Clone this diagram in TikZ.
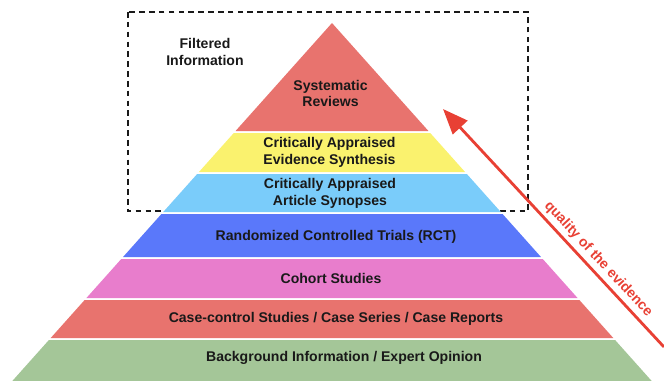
\documentclass[tikz,border=0pt]{standalone}
\usepackage{fontspec}
\setmainfont{Liberation Sans}
\usetikzlibrary{arrows.meta}

\definecolor{sysred}{HTML}{E8736E}
\definecolor{synyellow}{HTML}{FAF26E}
\definecolor{synblue}{HTML}{7ACCFA}
\definecolor{rctblue}{HTML}{5A78FA}
\definecolor{cohortpink}{HTML}{E87DCC}
\definecolor{casered}{HTML}{E8736E}
\definecolor{opiniongreen}{HTML}{A4C698}
\definecolor{arrowred}{HTML}{E84034}

\begin{document}
\begin{tikzpicture}[x=0.025cm,y=-0.025cm,
    bandtext/.style={font=\fontsize{10}{12}\selectfont\bfseries, text=black!90, align=center},
    filterbox/.style={draw=black!90, line width=1.1pt, dash pattern=on 4pt off 3pt},
    qarrow/.style={draw=arrowred, line width=2pt, -{Triangle[length=18pt,width=14pt]}}]

  % Fix the size of the picture
  \useasboundingbox (0,0) rectangle (664,381);

  % Apex of the pyramid and the slope of its sides
  \def\ax{332}
  \def\ay{23}
  \def\sl{0.893}

  % Dashed box round the filtered information (drawn first, the pyramid covers it)
  \draw[filterbox] (128,12) rectangle (528,211);
  \node[bandtext] (filtered) at (205,52) {Filtered\\Information};

  % The bands of the pyramid: top, bottom, colour
  \foreach \yt/\yb/\col in {23/131/sysred, 133/172/synyellow, 174/212/synblue,
      214/257/rctblue, 259/298/cohortpink, 300/338/casered, 340/381/opiniongreen}
  {
    \fill[\col] ({\ax-\sl*(\yt-\ay)},\yt) -- ({\ax+\sl*(\yt-\ay)},\yt)
      -- ({\ax+\sl*(\yb-\ay)},\yb) -- ({\ax-\sl*(\yb-\ay)},\yb) -- cycle;
  }

  % Labels of the bands
  \node[bandtext] (sysrev) at (330.5,93.5) {Systematic\\Reviews};
  \node[bandtext] (evsyn) at (329.5,152) {Critically Appraised\\Evidence Synthesis};
  \node[bandtext] (artsyn) at (330,193.5) {Critically Appraised\\Article Synopses};
  \node[bandtext] (rct) at (336,237) {Randomized Controlled Trials (RCT)};
  \node[bandtext] (cohort) at (331,278.5) {Cohort Studies};
  \node[bandtext] (casectl) at (336,319) {Case-control Studies / Case Series / Case Reports};
  \node[bandtext] (background) at (344,358) {Background Information / Expert Opinion};

  % Arrow for the quality of the evidence
  \coordinate (qlow) at (664,347);
  \coordinate (qhigh) at (443,109);
  \draw[qarrow] (qlow) -- (qhigh);
  \path (qhigh) -- (qlow)
    node[pos=0.665, sloped, above, font=\fontsize{10}{12}\selectfont\bfseries, text=arrowred] (quality) {quality of the evidence};

\end{tikzpicture}
\end{document}
